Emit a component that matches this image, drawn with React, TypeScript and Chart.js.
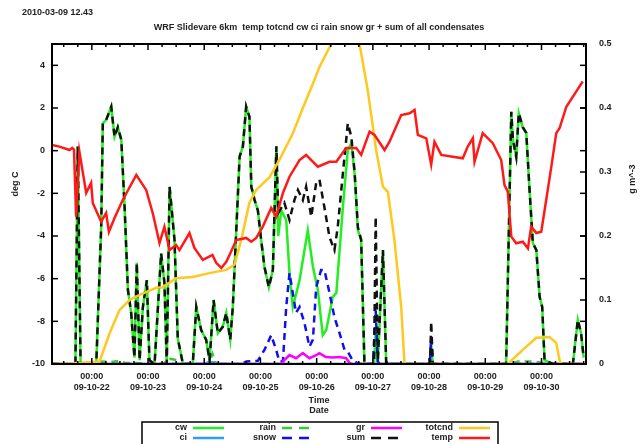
import React, { useEffect, useRef } from 'react';
import { Chart, registerables } from 'chart.js';

Chart.register(...registerables);

// hours relative to 2009-10-22 00:00
const X_MIN = -17;
const X_MAX = 211;
const DAY_TICKS = [0, 24, 48, 72, 96, 120, 144, 168, 192];
const DAY_LABELS = ['09-10-22', '09-10-23', '09-10-24', '09-10-25', '09-10-26', '09-10-27', '09-10-28', '09-10-29', '09-10-30'];
const TIME_LABEL = '00:00';
const TEMP_TICKS = [-10, -8, -6, -4, -2, 0, 2, 4];
const COND_TICKS = [0, 0.1, 0.2, 0.3, 0.4, 0.5];
const COND_TICK_LABELS = ['0', '0.1', '0.2', '0.3', '0.4', '0.5'];

const STAMP = '2010-03-09 12.43';
const TITLE = 'WRF Slidevare 6km  temp totcnd cw ci rain snow gr + sum of all condensates';
const Y_TITLE = 'deg C';
const Y2_TITLE = 'g m^-3';

const TEMP: [number, number][] = [
  [-17, 0.27], [-13.8, 0.19], [-9.5, 0.03], [-8.4, 0.13], [-7.6, 0.05], [-6.7, -3.09], [-5.3, -0.05], [-2.4, -1.98],
  [-0.3, -1.51], [0.4, -2.45], [4.0, -3.33], [6.1, -2.92], [7.3, -3.8], [9.7, -3.16], [13.2, -2.31], [19.0, -1.14],
  [23.2, -1.84], [26.0, -2.92], [28.9, -4.33], [31.0, -3.56], [33.2, -4.66], [36.0, -4.42], [37.4, -4.66], [41.7, -3.86],
  [43.8, -4.56], [47.4, -5.12], [51.5, -4.89], [53.1, -5.26], [55.3, -5.5], [57.5, -5.2], [61.7, -4.19], [65.9, -4.09],
  [68.1, -4.27], [70.2, -4.09], [73.0, -3.56], [76.6, -2.69], [78.7, -3.09], [81.6, -1.98], [84.4, -1.22], [88.7, -0.44],
  [91.5, -0.2], [96.5, -0.75], [101.5, -0.52], [104.4, -0.52], [108.6, 0.13], [112.9, 0.13], [115.0, -0.2], [118.6, 0.89],
  [120.7, 0.74], [125.0, 0.03], [127.1, 0.42], [132.1, 1.67], [135.7, 1.75], [137.8, 1.91], [139.2, 0.74], [142.8, 0.58],
  [144.9, -0.65], [146.3, 0.42], [149.2, -0.2], [154.1, -0.28], [158.4, -0.36], [160.5, 0.19], [162.7, 0.58], [163.4, -0.52],
  [166.9, 0.82], [171.2, 0.35], [174.8, -0.44], [176.2, -1.61], [177.6, -1.92], [179.1, -4.03], [181.2, -4.34], [184.0, -4.27],
  [186.2, -4.58], [187.6, -3.56], [189.8, -3.86], [191.9, -3.8], [194.0, -2.31], [196.2, -0.75], [198.3, 0.82], [199.7, 1.05],
  [202.6, 2.06], [206.8, 2.77], [209.6, 3.24],
];

const TOTCND: [number, number][] = [
  [-17, 0], [-8.1, 0.001], [3.3, 0.004], [7.6, 0.048], [11.8, 0.084], [16.1, 0.1], [20.4, 0.108], [27.5, 0.119],
  [30.2, 0.12], [36.0, 0.134], [43.0, 0.136], [50.2, 0.142], [57.4, 0.147], [60.9, 0.155], [63.8, 0.194], [67.3, 0.252],
  [70.2, 0.272], [75.9, 0.292], [80.1, 0.319], [85.8, 0.36], [90.1, 0.4], [94.4, 0.438], [97.2, 0.464], [102.2, 0.5],
  [108.3, 0.6], [114.3, 0.5], [117.8, 0.428], [121.4, 0.334], [124.3, 0.277], [126.4, 0.269], [129.2, 0.194], [132.1, 0.089],
  [133.5, 0], [177.6, 0], [184.0, 0.022], [189.8, 0.041], [195.4, 0.042], [198.3, 0.033], [199.7, 0.006], [200.5, 0], [210, 0],
];

const CW: [number, number][] = [
  [-17, 0], [-7.0, 0], [-6.0, 0.34], [-4.8, 0], [1.9, 0], [4.0, 0.214], [4.7, 0.376], [6.1, 0.381], [8.3, 0.402],
  [9.7, 0.355], [11.1, 0.37], [12.6, 0.35], [14.0, 0.245], [15.4, 0.116], [16.8, 0.08], [18.2, 0.01], [19.2, 0.158],
  [20.4, 0.006], [21.8, 0.089], [23.5, 0.131], [24.6, 0.006], [26.8, 0], [29.6, 0.173], [31.0, 0.127], [32.0, 0],
  [33.2, 0.277], [35.3, 0.194], [36.7, 0.04], [38.9, 0], [43.1, 0], [44.6, 0.089], [46.7, 0.053], [48.8, 0.038],
  [50.3, 0.006], [52.0, 0.1], [53.8, 0.048], [55.9, 0.058], [57.4, 0.08], [59.1, 0.038], [60.2, 0.089], [63.1, 0.324],
  [64.5, 0.34], [65.9, 0.402], [67.3, 0.386], [68.1, 0.277], [69.5, 0.256], [70.9, 0.24], [72.3, 0.194], [73.7, 0.152],
  [75.6, 0.12], [77.3, 0.147], [78.8, 0.34], [79.6, 0.2], [80.9, 0.24], [83.0, 0.225], [84.4, 0.142], [85.8, 0.089],
  [88.7, 0.131], [92.2, 0.209], [94.4, 0.152], [96.5, 0.116], [98.6, 0.045], [100.1, 0.053], [102.9, 0.105], [104.4, 0.111],
  [107.2, 0.245], [109.3, 0.334], [110.8, 0.345], [112.2, 0.298], [113.6, 0.209], [115.0, 0.194], [116.4, 0], [120.5, 0],
  [121.2, 0.05], [122.1, 0], [124.3, 0.178], [125.7, 0], [144.4, 0], [144.9, 0.03], [145.6, 0], [176.9, 0],
  [179.1, 0.394], [179.8, 0.35], [181.2, 0.324], [182.3, 0.392], [184.0, 0.37], [185.5, 0.361], [186.9, 0.272], [188.3, 0.189],
  [189.8, 0.178], [191.2, 0.105], [192.3, 0.089], [193.3, 0.006], [196.8, 0], [205.4, 0], [207.5, 0.069], [208.9, 0.048], [210.0, 0.01],
];

const SUM: [number, number][] = [
  [-17, 0], [-7.0, 0], [-6.0, 0.34], [-4.8, 0], [1.9, 0], [4.0, 0.214], [4.7, 0.376], [6.1, 0.381], [8.3, 0.402],
  [9.7, 0.355], [11.1, 0.37], [12.6, 0.35], [14.0, 0.245], [15.4, 0.116], [16.8, 0.08], [18.2, 0.01], [19.2, 0.158],
  [20.4, 0.006], [21.8, 0.089], [23.5, 0.131], [24.6, 0.006], [26.8, 0], [29.6, 0.173], [31.0, 0.127], [32.0, 0],
  [33.2, 0.277], [35.3, 0.194], [36.7, 0.04], [38.9, 0], [43.1, 0], [44.6, 0.089], [46.7, 0.053], [48.8, 0.038],
  [50.3, 0.006], [52.0, 0.1], [53.8, 0.048], [55.9, 0.058], [57.4, 0.08], [59.1, 0.038], [60.2, 0.089], [63.1, 0.324],
  [64.5, 0.34], [65.9, 0.402], [67.3, 0.386], [68.1, 0.277], [69.5, 0.256], [70.9, 0.24], [72.3, 0.194], [73.7, 0.152],
  [75.6, 0.12], [77.3, 0.147], [78.8, 0.34], [79.6, 0.236], [82.2, 0.252], [84.4, 0.225], [86.5, 0.256], [88.0, 0.272],
  [90.1, 0.256], [91.5, 0.277], [93.7, 0.23], [95.8, 0.283], [97.2, 0.288], [99.3, 0.245], [101.5, 0.198], [103.6, 0.178],
  [105.0, 0.214], [107.2, 0.298], [109.3, 0.376], [110.8, 0.355], [112.2, 0.3], [113.6, 0.214], [115.0, 0.194], [116.4, 0],
  [120.5, 0], [121.2, 0.23], [122.1, 0.005], [124.3, 0.178], [125.7, 0], [144.4, 0], [144.9, 0.066], [145.6, 0], [176.9, 0],
  [179.1, 0.394], [179.8, 0.35], [181.2, 0.324], [182.3, 0.392], [184.0, 0.37], [185.5, 0.361], [186.9, 0.272], [188.3, 0.189],
  [189.8, 0.178], [191.2, 0.105], [192.3, 0.089], [193.3, 0.006], [196.8, 0], [205.4, 0], [207.5, 0.069], [208.9, 0.048], [210.0, 0.01],
];

const SNOW: [number, number][] = [
  [-17, 0], [64, 0], [66, 0.004], [70.9, 0.005], [73.7, 0.022], [76.6, 0.045], [78.7, 0.022], [80.1, 0.004], [81.6, 0.004],
  [83.0, 0.089], [84.4, 0.142], [85.8, 0.111], [87.2, 0.08], [88.7, 0.089], [90.8, 0.064], [92.9, 0.027], [94.4, 0.038],
  [95.8, 0.12], [97.9, 0.147], [99.3, 0.147], [101.5, 0.111], [103.6, 0.073], [105.8, 0.048], [107.9, 0.022], [109.3, 0.019],
  [111.5, 0.005], [114.3, 0], [120.0, 0], [121.2, 0.084], [122.1, 0.004], [123, 0], [144.3, 0], [144.9, 0.042], [145.6, 0], [210, 0],
];

const GR: [number, number][] = [
  [-17, 0], [81, 0], [82.2, 0.006], [84.4, 0.014], [87.2, 0.009], [90.1, 0.017], [92.9, 0.009], [95.8, 0.014], [97.2, 0.017],
  [99.9, 0.011], [102.9, 0.01], [105.8, 0.011], [108.6, 0.009], [110, 0.002], [111, 0], [210, 0],
];

const RAIN: [number, number][] = [
  [-17, 0], [2, 0], [4, 0.004], [8, 0.003], [12, 0.005], [14, 0.002], [30, 0], [33.5, 0.008], [36.5, 0.006], [38, 0],
  [50, 0], [51.5, 0.016], [53, 0], [178, 0], [182, 0.004], [188, 0.004], [192, 0.002], [210, 0],
];

const CI: [number, number][] = [
  [-17, 0], [48, 0], [50, 0.003], [53, 0.002], [55, 0], [210, 0],
];

const FONT = '"Liberation Sans", Arial, sans-serif';
const TEXT = '#222';

type Series = { label: string; data: [number, number][]; color: string; dash: number[]; axis: string; order: number };

const SERIES: Series[] = [
  { label: 'cw', data: CW, color: '#22ee22', dash: [], axis: 'y2', order: 7 },
  { label: 'ci', data: CI, color: '#3399ff', dash: [], axis: 'y2', order: 6 },
  { label: 'rain', data: RAIN, color: '#33cc33', dash: [7, 5], axis: 'y2', order: 5 },
  { label: 'snow', data: SNOW, color: '#1010ee', dash: [7, 5], axis: 'y2', order: 4 },
  { label: 'gr', data: GR, color: '#ff00ff', dash: [], axis: 'y2', order: 3 },
  { label: 'sum', data: SUM, color: '#111111', dash: [7, 5], axis: 'y2', order: 2 },
  { label: 'totcnd', data: TOTCND, color: '#ffc820', dash: [], axis: 'y2', order: 1 },
  { label: 'temp', data: TEMP, color: '#ff1a1a', dash: [], axis: 'y', order: 0 },
];

// legend layout: [series label, text right x, line x0, row]
const LEGEND_LAYOUT: [string, number, number, number][] = [
  ['cw', 187, 193, 0], ['ci', 187, 193, 1],
  ['rain', 276, 282, 0], ['snow', 276, 282, 1],
  ['gr', 365, 371, 0], ['sum', 365, 371, 1],
  ['totcnd', 453, 459, 0], ['temp', 453, 459, 1],
];

const decorPlugin = {
  id: 'decor',
  afterDatasetsDraw(chart: any) {
    const { ctx, chartArea, scales } = chart;
    const { left, right, top, bottom } = chartArea;
    const x = scales.x, y = scales.y, y2 = scales.y2;
    ctx.save();
    ctx.strokeStyle = '#000';
    ctx.lineWidth = 1.5;
    const line = (a: number, b: number, c: number, d: number) => {
      ctx.beginPath(); ctx.moveTo(a, b); ctx.lineTo(c, d); ctx.stroke();
    };
    for (let h = Math.ceil(X_MIN / 6) * 6; h <= X_MAX; h += 6) {
      const px = x.getPixelForValue(h);
      const len = h % 24 === 0 ? 6 : 3;
      line(px, top, px, top + len);
      line(px, bottom, px, bottom - len);
    }
    TEMP_TICKS.forEach((v) => {
      const py = y.getPixelForValue(v);
      line(left, py, left + 6, py);
      line(right, py, right - 6, py);
    });
    COND_TICKS.forEach((v) => {
      const py = y2.getPixelForValue(v);
      line(right, py, right - 6, py);
    });
    ctx.lineWidth = 2;
    ctx.strokeRect(left, top, right - left, bottom - top);
    ctx.restore();
  },
  afterDraw(chart: any) {
    const { ctx, chartArea } = chart;
    const { left, right, top, bottom } = chartArea;
    const cx = (left + right) / 2;
    ctx.save();
    ctx.fillStyle = TEXT;
    ctx.textBaseline = 'middle';
    ctx.font = `bold 9px ${FONT}`;
    ctx.textAlign = 'left';
    ctx.fillText(STAMP, 22, 13);
    ctx.textAlign = 'center';
    ctx.fillText(TITLE, cx, 28);
    ctx.fillText('Time', cx, 401);
    ctx.fillText('Date', cx, 411);
    ctx.save();
    ctx.translate(16, (top + bottom) / 2 - 20);
    ctx.rotate(-Math.PI / 2);
    ctx.fillText(Y_TITLE, 0, 0);
    ctx.restore();
    ctx.save();
    ctx.translate(633, (top + bottom) / 2 - 25);
    ctx.rotate(-Math.PI / 2);
    ctx.fillText(Y2_TITLE, 0, 0);
    ctx.restore();

    // legend box
    ctx.strokeStyle = '#000';
    ctx.lineWidth = 1.5;
    ctx.strokeRect(142, 422, 356, 30);
    ctx.textAlign = 'right';
    LEGEND_LAYOUT.forEach(([label, tx, lx, row]) => {
      const s = SERIES.find((q) => q.label === label)!;
      const ly = 428 + row * 10;
      ctx.fillStyle = TEXT;
      ctx.fillText(label, tx, ly);
      ctx.strokeStyle = s.color;
      ctx.lineWidth = 2.5;
      ctx.setLineDash(s.dash.length ? [10, 7] : []);
      ctx.beginPath();
      ctx.moveTo(lx, ly);
      ctx.lineTo(lx + 31, ly);
      ctx.stroke();
      ctx.setLineDash([]);
    });
    ctx.restore();
  },
};

export default function App() {
  const ref = useRef<HTMLCanvasElement | null>(null);
  useEffect(() => {
    if (!ref.current) return;
    const tickFont = { family: FONT, size: 9, weight: 'bold' as const };
    const chart = new Chart(ref.current, {
      type: 'line',
      data: {
        datasets: SERIES.map((s) => ({
          label: s.label,
          data: s.data.map(([h, v]) => ({ x: h, y: v })),
          borderColor: s.color,
          backgroundColor: s.color,
          borderWidth: 2.5,
          borderDash: s.dash,
          pointRadius: 0,
          tension: 0,
          fill: false,
          yAxisID: s.axis,
          order: s.order,
        })),
      },
      options: {
        responsive: false,
        animation: false,
        devicePixelRatio: 1,
        layout: { padding: { top: 44, left: 0, right: 0, bottom: 0 } },
        plugins: { legend: { display: false }, tooltip: { enabled: false }, title: { display: false } },
        scales: {
          x: {
            type: 'linear',
            min: X_MIN,
            max: X_MAX,
            afterBuildTicks: (s: any) => { s.ticks = DAY_TICKS.map((v) => ({ value: v })); },
            afterFit: (s: any) => { s.height = 80; },
            ticks: {
              autoSkip: false,
              maxRotation: 0,
              padding: 7,
              color: TEXT,
              font: tickFont,
              callback: (v: any) => [TIME_LABEL, DAY_LABELS[DAY_TICKS.indexOf(Number(v))]],
            },
            grid: { display: false, drawTicks: false },
            border: { display: false },
          },
          y: {
            type: 'linear',
            position: 'left',
            min: -10,
            max: 5,
            afterBuildTicks: (s: any) => { s.ticks = TEMP_TICKS.map((v) => ({ value: v })); },
            afterFit: (s: any) => { s.width = 52; },
            ticks: { padding: 7, color: TEXT, font: tickFont, callback: (v: any) => String(v) },
            grid: { display: false, drawTicks: false },
            border: { display: false },
          },
          y2: {
            type: 'linear',
            position: 'right',
            min: 0,
            max: 0.5,
            afterBuildTicks: (s: any) => { s.ticks = COND_TICKS.map((v) => ({ value: v })); },
            afterFit: (s: any) => { s.width = 56; },
            ticks: {
              padding: 13,
              color: TEXT,
              font: tickFont,
              callback: (v: any) => COND_TICK_LABELS[COND_TICKS.indexOf(Number(v))] ?? '',
            },
            grid: { display: false, drawTicks: false },
            border: { display: false },
          },
        },
      },
      plugins: [decorPlugin],
    } as any);
    return () => chart.destroy();
  }, []);
  return (
    <div style={{ position: 'absolute', left: 0, top: 0, width: 642, height: 444, background: '#fff' }}>
      <canvas ref={ref} width={642} height={444} />
    </div>
  );
}
